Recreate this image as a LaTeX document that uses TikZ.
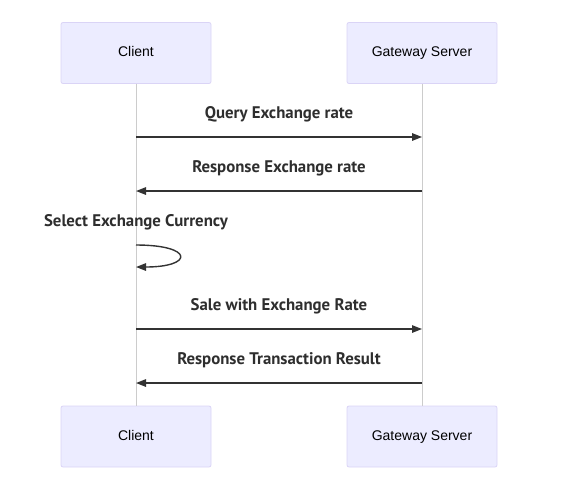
\documentclass[tikz,border=0pt]{standalone}
\usepackage{fontspec}
\setmainfont{Liberation Sans}
\newfontfamily\msgfont{PT Sans}
\usetikzlibrary{arrows.meta, positioning, calc}
\definecolor{actorFill}{HTML}{ECECFF}
\definecolor{actorLine}{HTML}{DAD4F6}
\definecolor{lifeGray}{HTML}{CCCCCC}
\definecolor{msgDark}{HTML}{333333}

\begin{document}
\begin{tikzpicture}[x=1pt, y=-1pt,
    actor/.style={draw=actorLine, fill=actorFill, rounded corners=2pt, line width=0.8pt,
      minimum width=150pt, minimum height=61pt, text height=10pt, text depth=3pt,
      font=\fontsize{14}{16}\selectfont},
    msg/.style={draw=msgDark, line width=1.4pt, -{Triangle[length=10pt, width=7.5pt]}},
    msglbl/.style={font=\msgfont\bfseries\fontsize{16.8}{19}\selectfont, text=msgDark!90!black,
      text height=11pt, text depth=4pt}]
    \useasboundingbox (0,0) rectangle (564,488);
    % Actors
    \node[actor] (clientTop) at (136,53) {Client};
    \node[actor] (gateTop) at (422,53) {Gateway Server};
    \node[actor] (clientBot) at (136,436.5) {Client};
    \node[actor] (gateBot) at (422,436.5) {Gateway Server};
    % Lifelines
    \draw[lifeGray, line width=1pt] (clientTop.south) -- (clientBot.north);
    \draw[lifeGray, line width=1pt] (gateTop.south) -- (gateBot.north);
    % Message rows
    \foreach \n/\y in {1/137, 2/191, 3/245, 4/267, 5/329, 6/383} {
      \coordinate (c\n) at (136,\y);
      \coordinate (g\n) at (422,\y);
    }
    % Messages
    \draw[msg] (c1) -- (g1);
    \node[msglbl] (lblQuery) at ($(c1)!0.5!(g1)+(0,-22)$) {Query Exchange rate};
    \draw[msg] (g2) -- (c2);
    \node[msglbl] (lblResp) at ($(c2)!0.5!(g2)+(0,-22)$) {Response Exchange rate};
    \draw[msg] (c3) .. controls (194,245) and (194,267) .. (c4);
    \node[msglbl] (lblSelect) at ($(c3)+(0,-22)$) {Select Exchange Currency};
    \draw[msg] (c5) -- (g5);
    \node[msglbl] (lblSale) at ($(c5)!0.5!(g5)+(0,-22)$) {Sale with Exchange Rate};
    \draw[msg] (g6) -- (c6);
    \node[msglbl] (lblResult) at ($(c6)!0.5!(g6)+(0,-22)$) {Response Transaction Result};
\end{tikzpicture}
\end{document}
